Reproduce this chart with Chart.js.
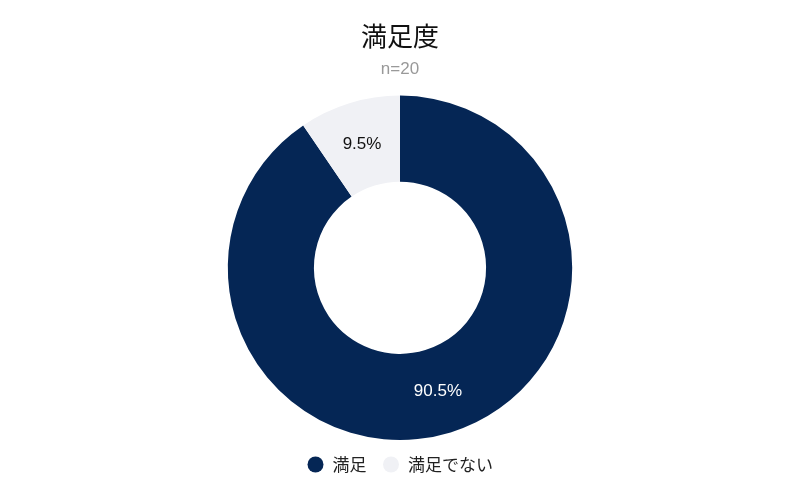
<!DOCTYPE html>
<html>
<head>
<meta charset="utf-8">
<script src="https://cdn.jsdelivr.net/npm/chart.js"></script>
<style>
  html, body { margin: 0; padding: 0; background: #fff; }
  #wrap { width: 800px; height: 495px; }
</style>
</head>
<body>
<div id="wrap"><canvas id="chart"></canvas></div>
<script>
const labels = ['満足', '満足でない'];
const values = [90.5, 9.5];
const colors = ['#052655', '#f0f1f5'];
const labelColors = ['#ffffff', '#111111'];

// draw percentage text in the middle of each slice
const sliceLabels = {
    id: 'sliceLabels',
    afterDatasetsDraw(chart) {
        const ctx = chart.ctx;
        const meta = chart.getDatasetMeta(0);
        ctx.save();
        ctx.font = '17px "Liberation Sans", Arial, sans-serif';
        ctx.textAlign = 'center';
        ctx.textBaseline = 'middle';
        meta.data.forEach(function (arc, i) {
            const p = arc.tooltipPosition();
            ctx.fillStyle = labelColors[i];
            ctx.fillText(values[i] + '%', p.x, p.y);
        });
        ctx.restore();
    }
};

new Chart(document.getElementById('chart'), {
    type: 'doughnut',
    data: {
        labels: labels,
        datasets: [{
            data: values,
            backgroundColor: colors,
            borderWidth: 0
        }]
    },
    options: {
        responsive: true,
        maintainAspectRatio: false,
        animation: false,
        cutout: '50%',
        layout: { padding: { top: 0, bottom: 12 } },
        plugins: {
            title: {
                display: true,
                text: '満足度',
                color: '#111',
                font: { size: 26, weight: 'normal', family: '"Noto Sans CJK JP", sans-serif' },
                padding: { top: 21, bottom: 7 }
            },
            subtitle: {
                display: true,
                text: 'n=20',
                color: '#999',
                font: { size: 17, family: '"Liberation Sans", Arial, sans-serif' },
                padding: { top: 0, bottom: 16 }
            },
            legend: {
                position: 'bottom',
                labels: {
                    usePointStyle: true,
                    pointStyle: 'circle',
                    boxWidth: 17,
                    boxHeight: 11.3,
                    padding: 16,
                    color: '#222',
                    font: { size: 17, family: '"Noto Sans CJK JP", sans-serif' }
                }
            },
            tooltip: { enabled: false }
        }
    },
    plugins: [sliceLabels]
});
</script>
</body>
</html>
